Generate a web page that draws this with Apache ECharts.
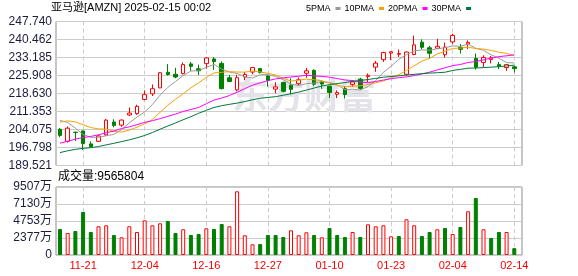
<!DOCTYPE html>
<html>
<head>
<meta charset="utf-8">
<script src="https://cdn.jsdelivr.net/npm/echarts@6/dist/echarts.min.js"></script>
<style>
  html, body { margin: 0; padding: 0; background: #fff; }
  #chart { width: 578px; height: 276px; }
</style>
</head>
<body>
<div id="chart"></div>
<script>
// trading days 2024-11-18 .. 2025-02-14
const dates = ['11-18','11-19','11-20','11-21','11-22','11-25','11-26','11-27','11-29',
  '12-02','12-03','12-04','12-05','12-06','12-09','12-10','12-11','12-12','12-13','12-16',
  '12-17','12-18','12-19','12-20','12-23','12-24','12-26','12-27','12-30','12-31',
  '01-02','01-03','01-06','01-07','01-08','01-10','01-13','01-14','01-15','01-16',
  '01-17','01-21','01-22','01-23','01-24','01-27','01-28','01-29','01-30','01-31',
  '02-03','02-04','02-05','02-06','02-07','02-10','02-11','02-12','02-13','02-14'];

const opens = [204.15,199.33,202.98,203.49,198.25,199.28,201.90,207.10,205.83,209.96,
  210.50,216.20,218.50,220.90,227.20,226.40,226.70,230.60,228.60,230.70,
  232.60,230.80,225.00,220.10,225.30,227.30,228.70,225.70,220.40,223.10,
  222.00,222.60,226.80,228.00,223.40,221.60,218.30,220.60,222.30,224.40,
  225.50,229.30,232.30,235.00,234.50,226.40,234.40,239.40,237.10,236.90,
  234.30,239.50,237.30,238.60,232.80,231.20,232.40,230.30,229.10,229.40];
const closes = [201.70,204.61,202.88,198.38,197.12,201.45,207.86,205.74,207.89,210.71,
  213.44,218.16,220.55,227.03,226.30,225.30,230.30,229.60,227.80,233.00,
  231.50,220.60,223.50,225.00,226.30,229.10,227.10,223.90,221.30,219.50,
  220.30,224.20,227.80,222.40,222.45,219.00,219.00,218.20,223.30,220.70,
  226.00,230.90,235.20,235.50,234.80,235.40,238.30,237.30,234.90,237.70,
  237.40,242.10,236.50,239.30,229.20,233.20,233.10,229.70,230.30,228.70];
const lows = [200.95,198.78,199.45,195.75,196.75,199.00,201.50,205.00,205.20,209.51,
  210.00,215.90,217.60,220.80,225.90,224.80,226.30,227.80,226.10,228.60,
  228.20,220.30,223.20,219.50,224.00,226.40,226.70,221.40,218.70,219.10,
  218.30,221.90,225.00,221.70,220.50,216.80,216.80,216.60,221.40,220.20,
  223.30,227.40,231.40,232.10,233.40,225.90,234.10,236.50,232.80,236.70,
  233.20,238.70,234.80,236.60,228.30,229.20,230.80,228.50,227.80,227.10];
const highs = [204.67,205.30,203.13,203.70,199.26,201.95,208.30,208.20,208.10,212.99,
  214.10,219.90,222.30,227.30,230.50,229.00,231.20,231.40,230.30,233.20,
  233.30,231.60,226.10,226.20,227.30,229.20,228.90,226.00,223.20,223.40,
  224.80,225.10,229.00,228.40,223.90,221.80,219.90,221.60,224.00,225.00,
  226.70,231.80,235.50,235.70,236.40,235.60,242.00,240.50,237.90,240.70,
  239.20,242.80,238.60,240.10,234.80,234.10,233.80,231.40,230.50,229.80];

const ma5 = [207.76,206.90,204.66,202.04,200.94,200.89,201.54,202.11,204.01,206.73,
  209.13,211.19,214.15,217.98,221.10,223.47,225.90,227.71,227.86,229.20,
  230.44,228.50,227.28,226.72,225.38,224.90,226.20,226.28,225.54,224.18,
  222.42,221.84,222.62,222.84,223.40,223.14,222.10,220.18,220.36,220.04,
  221.44,223.82,227.22,229.66,232.48,234.36,235.84,236.26,236.14,236.72,
  237.12,237.88,237.72,238.60,236.90,236.06,234.26,232.90,231.10,231.00];
const ma10 = [207.05,207.56,207.14,205.97,204.86,204.32,204.22,203.38,203.02,203.83,
  205.01,206.36,208.13,211.00,213.91,216.30,218.54,220.93,222.92,225.15,
  226.95,227.20,227.49,227.29,227.29,227.67,227.35,226.78,226.13,224.78,
  223.66,224.02,224.45,224.19,223.79,222.78,221.97,221.40,221.60,221.72,
  222.29,222.96,223.70,225.01,226.26,227.90,229.83,231.74,232.90,234.60,
  235.74,236.86,236.99,237.37,236.81,236.59,236.07,235.31,234.85,233.95];
const ma20 = [198.56,199.30,200.21,200.81,201.28,201.93,202.78,203.43,204.51,205.14,
  206.03,206.96,207.63,208.48,209.39,210.31,211.38,212.16,212.97,214.49,
  215.98,216.78,217.81,219.14,220.60,221.98,222.95,223.85,224.52,224.96,
  225.31,225.61,225.97,225.74,225.54,225.23,224.66,224.09,223.87,223.25,
  222.98,223.49,224.08,224.60,225.03,225.34,225.90,226.57,227.25,228.16,
  229.02,229.91,230.35,231.19,231.54,232.25,232.95,233.53,233.88,234.28];
const ma30 = [194.74,195.47,196.06,196.45,196.73,197.19,197.86,198.49,199.17,199.90,
  200.71,201.66,202.85,204.21,205.49,206.72,208.03,209.26,210.64,211.81,
  213.00,213.71,214.25,214.75,215.36,216.10,216.70,217.03,217.36,217.92,
  218.54,219.19,220.02,220.83,221.66,222.25,222.62,223.04,223.55,223.88,
  224.30,224.73,225.21,225.50,225.78,226.12,226.38,226.64,226.88,227.03,
  227.23,227.95,228.38,228.86,228.95,229.09,229.29,229.48,229.78,230.09];

// volume in 万 shares, and whether the bar is drawn as "up" (red hollow)
const volumes = [3635,3076,3355,6012,3216,4013,4152,2796,2475,4013,
  3216,4851,4152,4432,4754,3076,3593,2796,2936,3733,
  3635,4334,4013,8906,2754,1496,1538,2796,2796,2517,
  3453,2754,3174,2796,2475,3775,2796,2517,3216,2517,
  4292,4013,4152,2614,2656,4991,4152,2656,3216,3593,
  3775,2936,3915,6110,7969,3593,2377,3216,3216,956.58];
const volUp = [0,1,0,0,0,1,1,0,1,1, 1,1,1,1,0,0,1,0,0,1,
  0,0,1,1,1,1,0,0,0,0, 1,1,1,0,1,0,0,0,1,0,
  1,1,1,1,0,1,1,0,0,1, 0,1,0,1,0,1,0,0,1,0];

const priceTicks = ['189.521','196.798','204.075','211.353','218.630','225.908','233.185','240.462','247.740'];
const volTicks = ['0','2377万','4753万','7130万','9507万'];

const FONT = '"Liberation Sans", "Noto Sans CJK SC", sans-serif';
const UP = '#ff0000';
const DOWN = '#008000';
const GRID_LINE = '#cccccc';

const priceMin = 189.521, priceMax = 247.740, priceStep = (priceMax - priceMin) / 8;
const volMax = 9507, volStep = volMax / 4;

const kTop = 21.5, kHeight = 144;
const vTop = 187, vHeight = 68;
const frameBox = { left: 56, width: 466 };
const dataBox = { left: 60, width: 454.3 };

const labelDay = (i) => i % 8 === 3;

const chart = echarts.init(document.getElementById('chart'));

const hiddenValueX = (grid) => ({ type: 'value', gridIndex: grid, show: false, min: 0, max: 1 });

const dateAxis = (grid, showLabel) => ({
  type: 'category',
  gridIndex: grid,
  data: dates,
  boundaryGap: false,
  axisLine: { show: false },
  axisTick: { show: false },
  axisLabel: {
    show: showLabel,
    interval: labelDay,
    color: UP,
    fontSize: 11,
    fontFamily: FONT,
    margin: 5
  },
  splitLine: {
    show: true,
    interval: labelDay,
    lineStyle: { color: GRID_LINE, type: [4, 3], width: 1 }
  }
});

chart.setOption({
  animation: false,
  backgroundColor: '#fff',
  title: [
    {
      text: '亚马逊[AMZN] 2025-02-15 00:02',
      left: 51, top: 2, padding: 0,
      textStyle: { fontSize: 11, fontWeight: 'normal', color: '#000', fontFamily: FONT }
    },
    {
      text: '成交量:9565804',
      left: 58, top: 171, padding: 0,
      textStyle: { fontSize: 12, fontWeight: 'normal', color: '#000', fontFamily: FONT }
    }
  ],
  legend: {
    data: ['5PMA', '10PMA', '20PMA', '30PMA'],
    left: 306, top: 4, padding: 0,
    icon: 'rect',
    itemWidth: 5, itemHeight: 3, itemGap: 4,
    align: 'right',
    selectedMode: false,
    textStyle: { fontSize: 9, color: '#000', fontFamily: FONT }
  },
  graphic: [{
    type: 'text',
    left: 232, top: 77, z: 1, silent: true,
    style: { text: '东方财富', font: 'bold 36px "Noto Sans CJK SC"', fill: '#e3e3e9' }
  }],
  grid: [
    { left: frameBox.left, width: frameBox.width, top: kTop, height: kHeight, show: true, borderColor: '#8c8c8c', borderWidth: 1 },
    { left: dataBox.left, width: dataBox.width, top: kTop, height: kHeight },
    { left: frameBox.left, width: frameBox.width, top: vTop, height: vHeight, show: true, borderColor: '#8c8c8c', borderWidth: 1 },
    { left: dataBox.left, width: dataBox.width, top: vTop, height: vHeight }
  ],
  xAxis: [hiddenValueX(0), dateAxis(1, false), hiddenValueX(2), dateAxis(3, true)],
  yAxis: [
    {
      type: 'value', gridIndex: 0,
      min: priceMin, max: priceMax, interval: priceStep,
      axisLine: { show: false }, axisTick: { show: false },
      axisLabel: {
        margin: 4, fontSize: 12, color: '#1c1c3c', fontFamily: FONT,
        formatter: (v) => priceTicks[Math.round((v - priceMin) / priceStep)]
      },
      splitLine: { lineStyle: { color: GRID_LINE, width: 1 } }
    },
    { type: 'value', gridIndex: 1, min: priceMin, max: priceMax, show: false, splitLine: { show: false } },
    {
      type: 'value', gridIndex: 2,
      min: 0, max: volMax, interval: volStep,
      axisLine: { show: false }, axisTick: { show: false },
      axisLabel: {
        margin: 4, fontSize: 12, color: '#1c1c3c', fontFamily: FONT,
        formatter: (v) => volTicks[Math.round(v / volStep)]
      },
      splitLine: { lineStyle: { color: GRID_LINE, width: 1 } }
    },
    { type: 'value', gridIndex: 3, min: 0, max: volMax, show: false, splitLine: { show: false } }
  ],
  series: [
    {
      type: 'candlestick',
      xAxisIndex: 1, yAxisIndex: 1,
      clip: false,
      barWidth: 4,
      data: dates.map((d, i) => [opens[i], closes[i], lows[i], highs[i]]),
      itemStyle: { color: '#fff', color0: DOWN, borderColor: UP, borderColor0: DOWN, borderWidth: 1 }
    },
    { type: 'line', name: '5PMA', data: ma5, color: '#9a9a9a' },
    { type: 'line', name: '10PMA', data: ma10, color: '#f5a300' },
    { type: 'line', name: '20PMA', data: ma20, color: '#ff00ff' },
    { type: 'line', name: '30PMA', data: ma30, color: '#00773a' }
  ].map((s) => s.type !== 'line' ? s : Object.assign(s, {
    xAxisIndex: 1, yAxisIndex: 1,
    symbol: 'none', silent: true, z: 3,
    lineStyle: { width: 1, color: s.color },
    itemStyle: { color: s.color }
  })).concat([
    {
      type: 'bar',
      xAxisIndex: 3, yAxisIndex: 3,
      clip: false,
      barWidth: 4,
      data: volumes.map((v, i) => ({
        value: v,
        itemStyle: volUp[i]
          ? { color: '#fff', borderColor: UP, borderWidth: 1 }
          : { color: DOWN, borderColor: DOWN, borderWidth: 1 }
      }))
    }
  ])
});
</script>
</body>
</html>
